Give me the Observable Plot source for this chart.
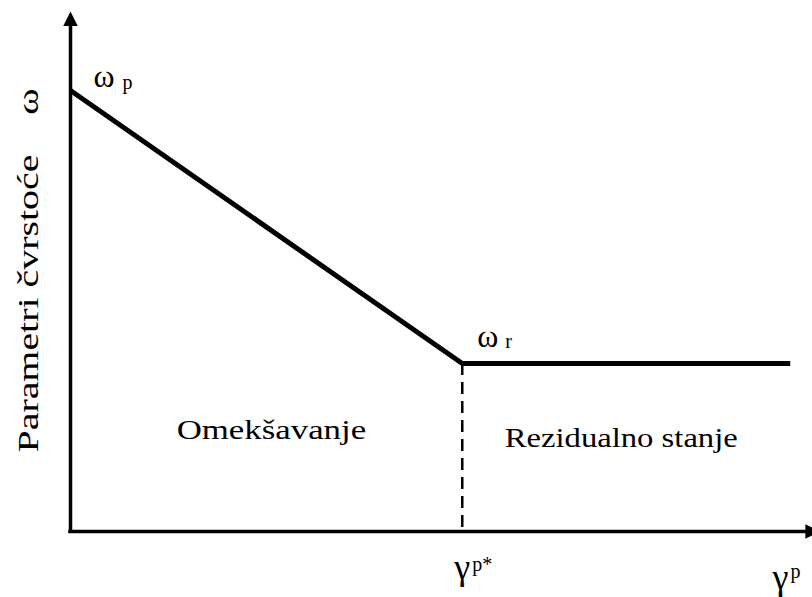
<!DOCTYPE html>
<html>
<head>
<meta charset="utf-8">
<script src="https://cdn.jsdelivr.net/npm/d3@7"></script>
<script src="https://cdn.jsdelivr.net/npm/@observablehq/plot@0.6"></script>
<style>
  html, body { margin: 0; padding: 0; background: #fff; }
  #chart svg { background: #fff; }
  #chart svg text { font-family: "Liberation Serif", "DejaVu Serif", serif; }
</style>
</head>
<body>
<div id="chart"></div>
<script>
// Strength parameter ω versus plastic shear strain γ^p (softening, then residual state)
const gammaP = [0, 0.528, 0.97];          // break points along γ^p
const omega = [0.848, 0.323, 0.323];      // ω_p at start, ω_r from γ^p* on
const axisEnd = [1.01, 1.0];              // arrow tips of the γ^p and ω axes
const yTitle = "Parametri čvrstoće\u2003ω";
const regionNames = ["Omekšavanje", "Rezidualno stanje"];

const points = gammaP.map((g, i) => ({g, w: omega[i]}));
const gammaStar = gammaP[1];
const omegaR = omega[1];

// filled arrowheads with the tip at the anchor point
const arrowUp = {
  draw(ctx, size) {
    const s = Math.sqrt(size);
    ctx.moveTo(0, 0);
    ctx.lineTo(s / 2, s);
    ctx.lineTo(-s / 2, s);
    ctx.closePath();
  }
};
const arrowRight = {
  draw(ctx, size) {
    const s = Math.sqrt(size);
    ctx.moveTo(0, 0);
    ctx.lineTo(-s, -s / 2);
    ctx.lineTo(-s, s / 2);
    ctx.closePath();
  }
};

const ink = "#000";
const label = (opts) => ({textAnchor: "start", lineAnchor: "bottom", fill: ink, ...opts});

const plot = Plot.plot({
  width: 812,
  height: 597,
  marginLeft: 70,
  marginRight: 0,
  marginTop: 11,
  marginBottom: 66,
  x: {domain: [0, 1], axis: null},
  y: {domain: [0, 1], axis: null},
  marks: [
    // axes
    Plot.ruleX([0], {y1: 0, y2: axisEnd[1] - 0.03, stroke: ink, strokeWidth: 3.5, strokeLinecap: "square"}),
    Plot.ruleY([0], {x1: 0, x2: axisEnd[0] - 0.02, stroke: ink, strokeWidth: 3.5, strokeLinecap: "square"}),
    Plot.dot([{x: 0, y: axisEnd[1]}], {x: "x", y: "y", symbol: arrowUp, r: 8.2, fill: ink, stroke: null}),
    Plot.dot([{x: axisEnd[0], y: 0}], {x: "x", y: "y", symbol: arrowRight, r: 8.2, fill: ink, stroke: null}),

    // dashed marker at γ^p*
    Plot.ruleX([gammaStar], {y1: omegaR, y2: 0, stroke: ink, strokeWidth: 2.5, strokeDasharray: "12,7"}),

    // strength curve
    Plot.line(points, {x: "g", y: "w", stroke: ink, strokeWidth: 5, strokeLinejoin: "miter", strokeLinecap: "butt"}),

    // ω_p
    Plot.text([points[0]], label({x: "g", y: "w", text: () => "ω", dx: 23, dy: -4, fontSize: 32})),
    Plot.text([points[0]], label({x: "g", y: "w", text: () => "p", dx: 52, dy: -2, fontSize: 20})),
    // ω_r
    Plot.text([points[1]], label({x: "g", y: "w", text: () => "ω", dx: 15, dy: -17, fontSize: 32})),
    Plot.text([points[1]], label({x: "g", y: "w", text: () => "r", dx: 43, dy: -16, fontSize: 20})),

    // γ^p* under the dashed marker
    Plot.text([gammaStar], label({x: d => d, y: 0, text: () => "γ", dx: -8, dy: 47, fontSize: 36})),
    Plot.text([gammaStar], label({x: d => d, y: 0, text: () => "p*", dx: 10, dy: 39, fontSize: 20})),
    // γ^p at the end of the horizontal axis
    Plot.text([1], label({x: d => d, y: 0, text: () => "γ", dx: -40, dy: 57, fontSize: 36})),
    Plot.text([1], label({x: d => d, y: 0, text: () => "p", dx: -22, dy: 46, fontSize: 20})),

    // region names
    Plot.text([regionNames[0]], label({x: () => gammaStar / 2, y: 0, text: d => d, textAnchor: "middle", dx: 5, dy: -93, fontSize: 27})),
    Plot.text([regionNames[1]], label({x: () => (gammaStar + gammaP[2]) / 2, y: 0, text: d => d, textAnchor: "middle", dx: -5, dy: -85, fontSize: 27})),

    // vertical axis title
    Plot.text([yTitle], label({frameAnchor: "left", text: d => d, rotate: -90, textAnchor: "middle", dx: -33, dy: -1, fontSize: 30}))
  ]
});

// the typeface runs wide: stretch the Latin captions along their baseline
const stretch = new Map([[regionNames[0], 1.29], [regionNames[1], 1.21], [yTitle, 1.33]]);
d3.select(plot)
  .selectAll("text")
  .filter(function () { return stretch.has(this.textContent); })
  .attr("transform", function () {
    return this.getAttribute("transform") + ` scale(${stretch.get(this.textContent)},1)`;
  });

document.getElementById("chart").appendChild(plot);
</script>
</body>
</html>
